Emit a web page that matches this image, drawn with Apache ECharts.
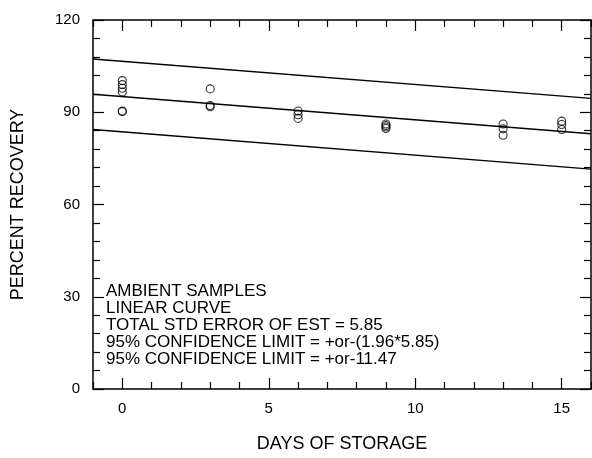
<!DOCTYPE html>
<html>
<head>
<meta charset="utf-8">
<script src="https://cdn.jsdelivr.net/npm/echarts@6.0.0/dist/echarts.min.js"></script>
<style>html,body{margin:0;padding:0;background:#fff;}#c{width:592px;height:458px;}</style>
</head>
<body>
<div id="c"></div>
<script>
// Data
const sampleDays = [0,0,0,0,0,0, 3,3,3, 6,6,6, 9,9,9,9, 13,13,13, 15,15,15];
const recovery   = [100.3,99.0,97.8,96.6,90.4,90.2, 97.6,92.2,91.8, 90.4,89.2,88.0, 86.2,85.7,85.2,84.7, 86.2,84.6,82.5, 87.1,86.0,84.4];
const lineDays   = [-1, 16];
const fitLine    = [95.85, 83.0];
const upperLimit = [107.3, 94.5];
const lowerLimit = [84.4, 71.5];
const xMajorTicks = [0, 5, 10, 15];
const xMinorTicks = [-1,1,2,3,4,6,7,8,9,11,12,13,14,16];
const yTickLabels = [0, 30, 60, 90, 120];
const notes = [
  'AMBIENT SAMPLES',
  'LINEAR CURVE',
  'TOTAL STD ERROR OF EST = 5.85',
  '95% CONFIDENCE LIMIT = +or-(1.96*5.85)',
  '95% CONFIDENCE LIMIT = +or-11.47'
];

const FONT = 'Liberation Sans';
const chart = echarts.init(document.getElementById('c'), null, {renderer: 'canvas'});

function xAxisDef(pos, ticks, len, showLine, showLabel, name) {
  return {
    type: 'value', position: pos, min: -1, max: 16,
    name: name || '', nameLocation: 'middle', nameGap: 46,
    nameTextStyle: {fontFamily: FONT, fontSize: 18, color: '#000'},
    axisLine: {show: showLine, onZero: false, lineStyle: {color: '#000', width: 1.5}},
    axisTick: {show: true, inside: true, length: len, customValues: ticks, lineStyle: {color: '#000', width: 1.2}},
    axisLabel: {show: showLabel, customValues: ticks, margin: 12, fontFamily: FONT, fontSize: 15, color: '#000'},
    splitLine: {show: false}
  };
}
function yAxisDef(pos, showLabel, name) {
  return {
    type: 'value', position: pos, min: 0, max: 120, interval: 30,
    name: name || '', nameLocation: 'middle', nameGap: 66, nameRotate: 90,
    nameTextStyle: {fontFamily: FONT, fontSize: 18, color: '#000'},
    axisLine: {show: true, onZero: false, lineStyle: {color: '#000', width: 1.5}},
    axisTick: {show: true, inside: true, length: 11, lineStyle: {color: '#000', width: 1.2}},
    minorTick: {show: true, splitNumber: 5, length: 7, lineStyle: {color: '#000', width: 1.2}},
    axisLabel: {show: showLabel, margin: 13, fontFamily: FONT, fontSize: 15, color: '#000',
      formatter: v => yTickLabels.includes(v) ? String(v) : ''},
    splitLine: {show: false}, minorSplitLine: {show: false}
  };
}

const lineStyle = {color: '#000', width: 1.4};
const option = {
  animation: false,
  backgroundColor: '#fff',
  grid: {left: 93, right: 1, top: 20, bottom: 65, containLabel: false},
  xAxis: [
    xAxisDef('bottom', xMajorTicks, 11, true, true, 'DAYS OF STORAGE'),
    xAxisDef('bottom', xMinorTicks, 7, false, false),
    xAxisDef('top', xMajorTicks, 11, true, false),
    xAxisDef('top', xMinorTicks, 7, false, false)
  ],
  yAxis: [
    yAxisDef('left', true, 'PERCENT RECOVERY'),
    yAxisDef('right', false)
  ],
  series: [
    {type: 'line', xAxisIndex: 0, yAxisIndex: 0, data: lineDays.map((d, i) => [d, upperLimit[i]]), showSymbol: false, lineStyle, silent: true},
    {type: 'line', xAxisIndex: 0, yAxisIndex: 0, data: lineDays.map((d, i) => [d, fitLine[i]]), showSymbol: false, lineStyle, silent: true},
    {type: 'line', xAxisIndex: 0, yAxisIndex: 0, data: lineDays.map((d, i) => [d, lowerLimit[i]]), showSymbol: false, lineStyle, silent: true},
    {type: 'scatter', xAxisIndex: 0, yAxisIndex: 0, symbol: 'circle', symbolSize: 8,
      data: sampleDays.map((d, i) => [d, recovery[i]]),
      itemStyle: {color: 'rgba(255,255,255,0)', borderColor: '#000', borderWidth: 1.1}}
  ],
  graphic: notes.map((t, i) => ({
    type: 'text', left: 106, top: 283 + i * 17,
    style: {text: t, font: '17px "' + FONT + '"', fill: '#000'}
  }))
};
chart.setOption(option);
</script>
</body>
</html>
